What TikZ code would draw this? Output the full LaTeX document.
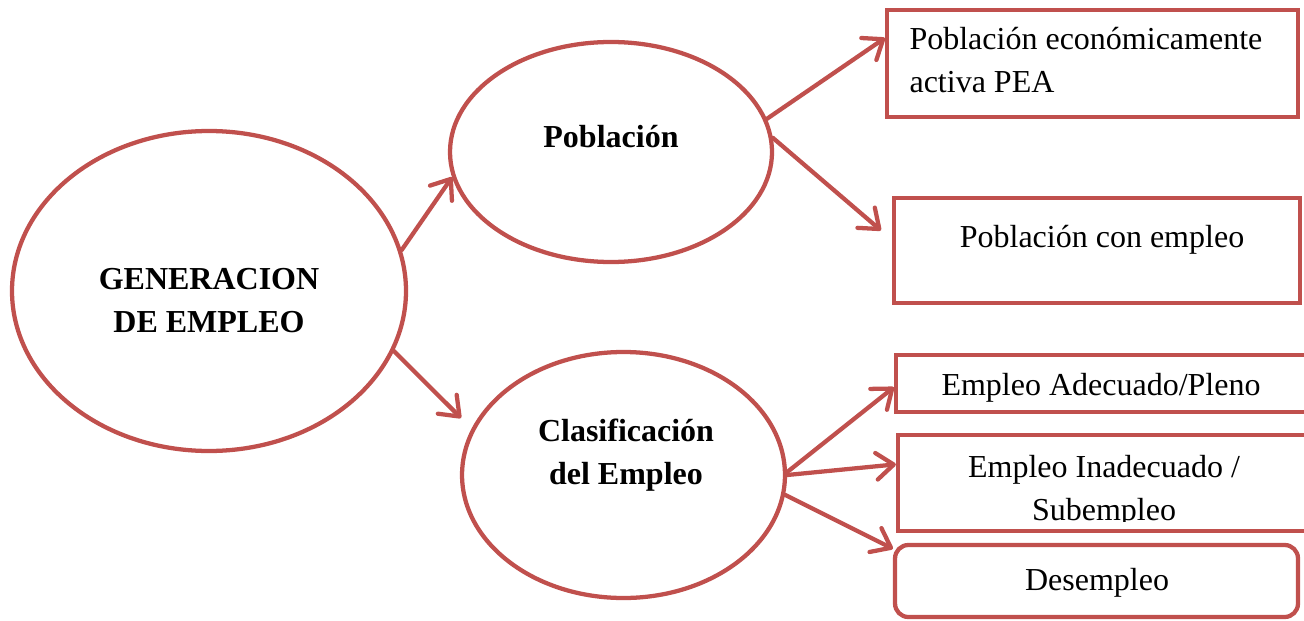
\documentclass[tikz,border=0pt]{standalone}
\usepackage{fontspec}
\setmainfont{Liberation Serif}
\usetikzlibrary{arrows.meta,calc,shapes.geometric}
\definecolor{accred}{HTML}{C0504D}
\begin{document}
\begin{tikzpicture}[x=0.375pt,y=-0.375pt,
  ell/.style={ellipse, draw=accred, line width=1.6pt, inner sep=0pt},
  box/.style={rectangle, draw=accred, line width=1.6pt, inner sep=0pt},
  lbl/.style={inner sep=0pt, font=\fontsize{12}{16}\selectfont},
  blbl/.style={inner sep=0pt, font=\fontsize{12}{16}\selectfont\bfseries},
  conn/.style={draw=accred, line width=1.6pt, line cap=round,
    -{Straight Barb[length=6.5pt,width=10pt,line cap=round,line join=round]}},
]
\useasboundingbox (0,0) rectangle (1304,620);

% ellipses
\node[ell, minimum width=147.75pt, minimum height=120pt] (gen) at (209,291) {};
\node[ell, minimum width=120.75pt, minimum height=82.5pt] (pob) at (611,152) {};
\node[ell, minimum width=121.1pt, minimum height=92.25pt] (clas) at (623.5,475) {};

% boxes
\node[box, minimum width=154.1pt, minimum height=40.1pt] (pea) at (1092.5,63.5) {};
\node[box, minimum width=152.25pt, minimum height=39.4pt] (conemp) at (1097,250.5) {};
\node[box, minimum width=159pt, minimum height=21.4pt] (adec) at (1108,383.5) {};
\node[box, minimum width=158.25pt, minimum height=36pt] (inad) at (1109,483) {};
\node[box, rounded corners=5pt, minimum width=151.1pt, minimum height=27pt] (desemp) at (1096.5,581) {};

% texts (anchor=base is the baseline of the last line)
\node[blbl, align=center, anchor=base] (gentxt) at (209,332) {GENERACION\\DE EMPLEO};
\node[blbl, anchor=base] (pobtxt) at (611,148) {Población};
\node[blbl, align=center, anchor=base] (clastxt) at (626,484) {Clasificación\\del Empleo};
\node[lbl, align=left, anchor=base west] (peatxt) at (909,92) {Población económicamente\\activa PEA};
\node[lbl, anchor=base] (conemptxt) at (1102,247) {Población con empleo};
\node[lbl, anchor=base] (adectxt) at (1101,395) {Empleo Adecuado/Pleno};
\begin{scope}
  \clip (inad.north west) rectangle ($(inad.south east)+(0,-12)$);
  \node[lbl, align=center, anchor=base] (inadtxt) at (1104,520) {Empleo Inadecuado /\\Subempleo};
\end{scope}
\node[lbl, anchor=base] (desemptxt) at (1097,590) {Desempleo};

% connectors
\draw[conn] (gen.12) -- (pob.189.6);
\draw[conn, shorten >=5.6pt] (gen.-18.8) -- (clas.163);
\draw[conn] (pob.12.6) -- (pea.173.5);
\draw[conn, shorten >=5.4pt] (pob.5.4) -- (conemp.177.7);
\draw[conn] (clas.1) -- (adec.181);
\draw[conn] (clas.0.5) -- (inad.175);
\draw[conn] (clas.-7.9) -- (desemp.171);
\end{tikzpicture}
\end{document}
